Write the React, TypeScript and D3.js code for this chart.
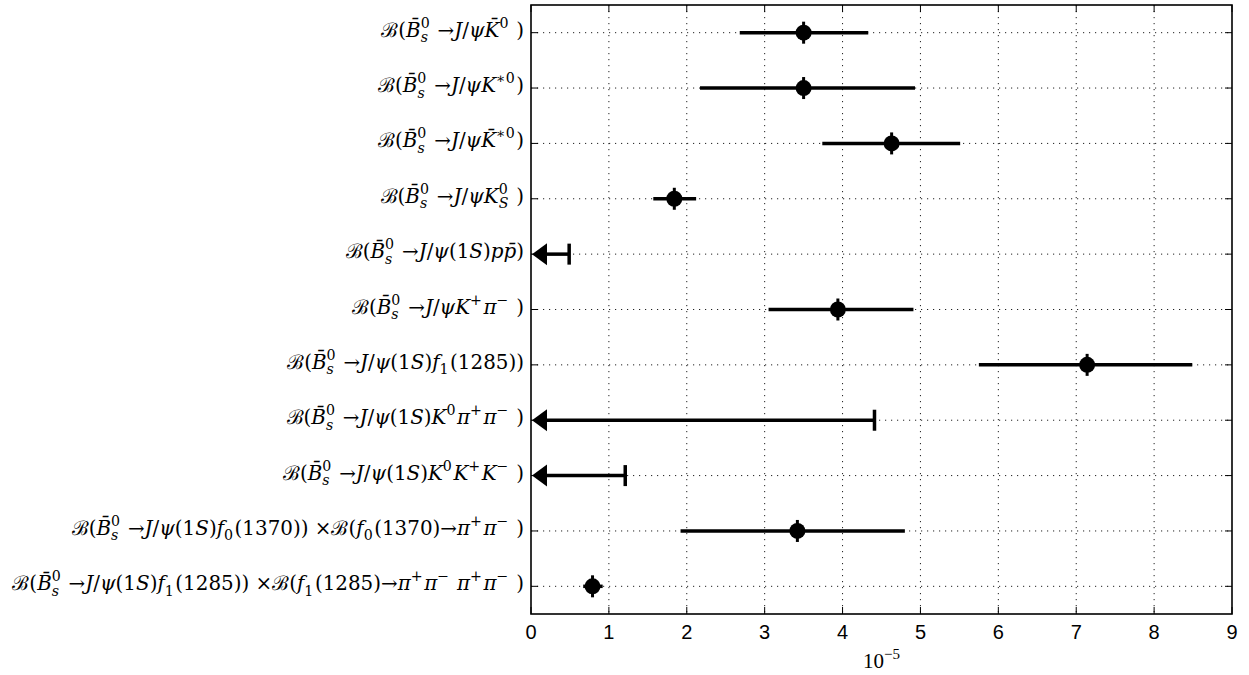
import React from 'react';
import * as d3 from 'd3';

// ---------- data ----------
const labels: string[] = [
  'ℬ(B̄^{0}_{s} →J/ψK̄^{0} )',
  'ℬ(B̄^{0}_{s} →J/ψK^{∗0})',
  'ℬ(B̄^{0}_{s} →J/ψK̄^{∗0})',
  'ℬ(B̄^{0}_{s} →J/ψK^{0}_{S} )',
  'ℬ(B̄^{0}_{s} →J/ψ(1S)pp̄)',
  'ℬ(B̄^{0}_{s} →J/ψK^{+}π^{−} )',
  'ℬ(B̄^{0}_{s} →J/ψ(1S)f_{1}(1285))',
  'ℬ(B̄^{0}_{s} →J/ψ(1S)K^{0}π^{+}π^{−} )',
  'ℬ(B̄^{0}_{s} →J/ψ(1S)K^{0}K^{+}K^{−} )',
  'ℬ(B̄^{0}_{s} →J/ψ(1S)f_{0}(1370)) ×ℬ(f_{0}(1370)→π^{+}π^{−} )',
  'ℬ(B̄^{0}_{s} →J/ψ(1S)f_{1}(1285)) ×ℬ(f_{1}(1285)→π^{+}π^{−} π^{+}π^{−} )',
];
const values: (number | null)[] = [3.5, 3.5, 4.63, 1.84, null, 3.94, 7.14, null, null, 3.42, 0.79];
const errMinus: (number | null)[] = [0.82, 1.33, 0.89, 0.27, null, 0.89, 1.39, null, null, 1.5, 0.12];
const errPlus: (number | null)[] = [0.83, 1.43, 0.88, 0.28, null, 0.97, 1.35, null, null, 1.38, 0.13];
const upperLimits: (number | null)[] = [null, null, null, null, 0.49, null, null, 4.41, 1.21, null, null];
const xTicks: number[] = [0, 1, 2, 3, 4, 5, 6, 7, 8, 9];
const xUnitLabel = '10';
const xUnitExp = '−5';

// ---------- layout ----------
const W = 1249, H = 675;
const M = { left: 531, right: 1232, top: 5, bottom: 614 };
const LFAM = 'DejaVu Serif';
const LFONT = '"DejaVu Serif", serif';
const FS = 19.9, SFS = 14.2, SUP = -9, SUB = 5.5;

let _ctx: CanvasRenderingContext2D | null = null;
function measure(t: string, size: number, italic: boolean) {
  if (!_ctx) _ctx = document.createElement('canvas').getContext('2d');
  if (!_ctx) return t.length * size * 0.55;
  _ctx.font = `${italic ? 'italic ' : ''}${size}px "${LFAM}"`;
  return _ctx.measureText(t).width;
}

type Run = { text: string; italic: boolean };
type Piece = { level: number; runs: Run[] };
const ITAL = /[A-Za-z\u0304ψπ]/;
function toRuns(t: string): Run[] {
  const runs: Run[] = [];
  for (const ch of t) {
    const it = ITAL.test(ch);
    const last = runs[runs.length - 1];
    if (last && last.italic === it) last.text += ch;
    else runs.push({ text: ch, italic: it });
  }
  return runs;
}
function parseLabel(s: string): Piece[] {
  const out: Piece[] = [];
  let i = 0, buf = '';
  const flush = () => { if (buf) { out.push({ level: 0, runs: toRuns(buf) }); buf = ''; } };
  while (i < s.length) {
    const c = s[i];
    if (c === '^' || c === '_') {
      flush();
      let content = '';
      if (s[i + 1] === '{') { const j = s.indexOf('}', i + 2); content = s.slice(i + 2, j); i = j + 1; }
      else { content = s[i + 1]; i += 2; }
      out.push({ level: c === '^' ? 1 : -1, runs: toRuns(content) });
    } else { buf += c; i++; }
  }
  flush();
  return out;
}
const pieceWidth = (p: Piece) => p.runs.reduce((a, r) => a + measure(r.text, p.level === 0 ? FS : SFS, r.italic), 0);

function MathLabel({ s, x, y }: { s: string; x: number; y: number }) {
  const pieces = parseLabel(s);
  let shift = 0;
  let pendingDx = 0;
  const els: React.ReactNode[] = [];
  pieces.forEach((p, k) => {
    const target = p.level === 1 ? SUP : p.level === -1 ? SUB : 0;
    const size = p.level === 0 ? FS : SFS;
    let dx = pendingDx;
    pendingDx = 0;
    const prev = pieces[k - 1];
    if (prev && prev.level !== 0 && p.level !== 0 && prev.level !== p.level) {
      const wp = pieceWidth(prev), wc = pieceWidth(p);
      dx += -wp;
      if (wp > wc) pendingDx += wp - wc;
    }
    const next = pieces[k + 1];
    if (p.level !== 0 && (!next || next.level === 0)) pendingDx += 1.5;
    p.runs.forEach((r, j) => {
      const dy = j === 0 ? target - shift : 0;
      if (j === 0) shift = target;
      els.push(
        <tspan key={`${k}-${j}`} fontSize={size} fontStyle={r.italic ? 'italic' : 'normal'}
          dy={dy || undefined} dx={j === 0 && dx ? dx : undefined}>{r.text}</tspan>
      );
    });
  });
  return (
    <text x={x} y={y} textAnchor="end" fontFamily={LFONT} fontSize={FS} fill="#000">{els}</text>
  );
}

export default function App() {
  const x = d3.scaleLinear().domain([0, 9]).range([M.left, M.right]);
  const y = d3.scaleLinear().domain([0.5, labels.length + 0.5]).range([M.top, M.bottom]);
  const rows = d3.range(labels.length);
  const grid = { stroke: '#222', strokeWidth: 1, strokeDasharray: '1.2,4.8' };
  const TL = 7;
  return (
    <svg width={W} height={H} style={{ position: 'absolute', left: 0, top: 0, background: '#fff' }}>
      <rect x={0} y={0} width={W} height={H} fill="#fff" />
      {/* grid */}
      {xTicks.slice(1, -1).map(t => (
        <line key={'gx' + t} x1={x(t)} x2={x(t)} y1={M.top} y2={M.bottom} {...grid} />
      ))}
      {rows.map(i => (
        <line key={'gy' + i} x1={M.left} x2={M.right} y1={y(i + 1)} y2={y(i + 1)} {...grid} />
      ))}
      {/* ticks */}
      {xTicks.map(t => (
        <g key={'xt' + t}>
          <line x1={x(t)} x2={x(t)} y1={M.bottom} y2={M.bottom - TL} stroke="#000" strokeWidth={1} />
          <line x1={x(t)} x2={x(t)} y1={M.top} y2={M.top + TL} stroke="#000" strokeWidth={1} />
          <text x={x(t)} y={639} textAnchor="middle" fontFamily='"Liberation Sans", Arial, sans-serif' fontSize={20}>{t}</text>
        </g>
      ))}
      {rows.map(i => (
        <g key={'yt' + i}>
          <line x1={M.left} x2={M.left + TL} y1={y(i + 1)} y2={y(i + 1)} stroke="#000" strokeWidth={1} />
          <line x1={M.right} x2={M.right - TL} y1={y(i + 1)} y2={y(i + 1)} stroke="#000" strokeWidth={1} />
          <MathLabel s={labels[i]} x={524} y={y(i + 1) + 4} />
        </g>
      ))}
      {/* data */}
      {rows.map(i => {
        const cy = y(i + 1);
        const v = values[i];
        const ul = upperLimits[i];
        if (v != null) {
          const lo = v - (errMinus[i] ?? 0), hi = v + (errPlus[i] ?? 0);
          return (
            <g key={'d' + i}>
              <line x1={x(lo)} x2={x(hi)} y1={cy} y2={cy} stroke="#000" strokeWidth={3.5} />
              <line x1={x(v)} x2={x(v)} y1={cy - 11} y2={cy + 11} stroke="#000" strokeWidth={3} />
              <circle cx={x(v)} cy={cy} r={8} fill="#000" />
            </g>
          );
        }
        if (ul != null) {
          const x0 = x(0);
          return (
            <g key={'d' + i}>
              <line x1={x0 + 10} x2={x(ul)} y1={cy} y2={cy} stroke="#000" strokeWidth={3.5} />
              <line x1={x(ul)} x2={x(ul)} y1={cy - 10.5} y2={cy + 10.5} stroke="#000" strokeWidth={3.5} />
              <path d={`M${x0 + 1},${cy} L${x0 + 16},${cy - 11} L${x0 + 16},${cy + 11} Z`} fill="#000" />
            </g>
          );
        }
        return null;
      })}
      {/* box */}
      <rect x={M.left} y={M.top} width={M.right - M.left} height={M.bottom - M.top} fill="none" stroke="#000" strokeWidth={1.6} />
      {/* unit */}
      <text x={x(4.5)} y={668} textAnchor="middle" fontFamily={'"Liberation Serif", serif'} fontSize={21}>
        {xUnitLabel}<tspan dy={-9} fontSize={15}>{xUnitExp}</tspan>
      </text>
    </svg>
  );
}
